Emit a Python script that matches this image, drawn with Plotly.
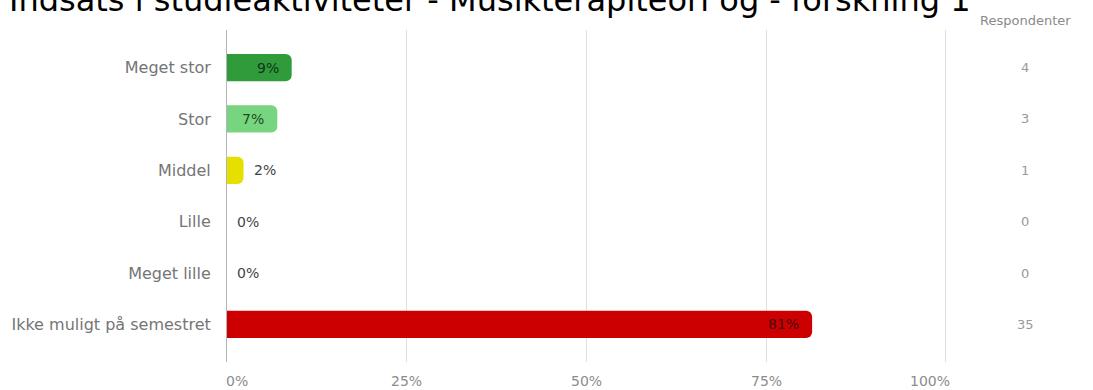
import plotly.graph_objects as go

# ---- data ----
categories = ["Meget stor", "Stor", "Middel", "Lille", "Meget lille", "Ikke muligt på semestret"]
percent = [9.0, 7.0, 2.3, 0.0, 0.0, 81.4]
percent_labels = ["9%", "7%", "2%", "0%", "0%", "81%"]
respondents = [4, 3, 1, 0, 0, 35]
x_tick_values = [0, 25, 50, 75, 100]
x_tick_labels = ["0%", "25%", "50%", "75%", "100%"]
title_text = "Indsats i studieaktiviteter - Musikterapiteori og - forskning 1"
count_header = "Respondenter"

# ---- styles ----
bar_colors = ["#2f9b3b", "#76d57e", "#e6e000", "#cccccc", "#cccccc", "#cc0000"]
label_colors = ["#15331a", "#1f4a24", "#444444", "#444444", "#444444", "#4a0808"]
FONT = "DejaVu Sans"
PLOT_L, PLOT_W = 227, 726.0

fig = go.Figure()
fig.add_trace(go.Bar(
    x=percent, y=categories, orientation="h",
    marker=dict(color=bar_colors, cornerradius=6, line=dict(width=0)),
    width=0.53, hoverinfo="skip",
))

annotations = []
# percent labels
for cat, val, lab, col in zip(categories, percent, percent_labels, label_colors):
    inside = val >= 5
    annotations.append(dict(
        x=val, y=cat, xref="x", yref="y", text=lab, showarrow=False,
        xanchor="right" if inside else "left", xshift=-11 if inside else 8,
        font=dict(family=FONT, size=14, color=col),
    ))
# respondent counts
for cat, n in zip(categories, respondents):
    annotations.append(dict(
        x=(1025 - PLOT_L) / PLOT_W, y=cat, xref="paper", yref="y", text=str(n), showarrow=False,
        xanchor="center", font=dict(family=FONT, size=13, color="#999999"),
    ))
annotations.append(dict(
    x=(1025 - PLOT_L) / PLOT_W, y=1, xref="paper", yref="paper", yshift=10, yanchor="middle",
    text=count_header, showarrow=False, xanchor="center",
    font=dict(family=FONT, size=13, color="#8a8a8a"),
))
# x tick labels
for i, (v, t) in enumerate(zip(x_tick_values, x_tick_labels)):
    anchor = "left" if i == 0 else ("right" if i == len(x_tick_values) - 1 else "center")
    shift = -3 if i == 0 else (6 if i == len(x_tick_values) - 1 else 0)
    annotations.append(dict(
        x=v, y=0, xref="x", yref="paper", yshift=-19, xshift=shift, yanchor="middle",
        xanchor=anchor, text=t, showarrow=False,
        font=dict(family=FONT, size=14, color="#8c8c8c"),
    ))
# title (partly cut at top as in reference)
annotations.append(dict(
    x=(7 - PLOT_L) / PLOT_W, y=1, xref="paper", yref="paper", xanchor="left", yanchor="middle",
    yshift=30, showarrow=False, text=title_text,
    font=dict(family=FONT, size=32, color="#000000"),
))

fig.update_layout(
    width=1093, height=390,
    margin=dict(l=227, r=140, t=30, b=28, pad=0),
    plot_bgcolor="white", paper_bgcolor="white",
    showlegend=False,
    annotations=annotations,
    xaxis=dict(range=[0, 101], tickvals=x_tick_values, showticklabels=False,
               showgrid=True, gridcolor="#e0e0e0", gridwidth=1, zeroline=False,
               showline=False, fixedrange=True, automargin=False),
    yaxis=dict(type="category", categoryorder="array", categoryarray=categories,
               range=[5.73, -0.73], showline=True, linecolor="#b5b5b5", linewidth=1,
               showgrid=False, zeroline=False, ticks="", ticklabelstandoff=12,
               tickfont=dict(family=FONT, size=16, color="#757575"), fixedrange=True,
               automargin=False),
)

fig.write_html("out.html", config={"displayModeBar": False},
               post_script="document.body.style.margin='0';")
